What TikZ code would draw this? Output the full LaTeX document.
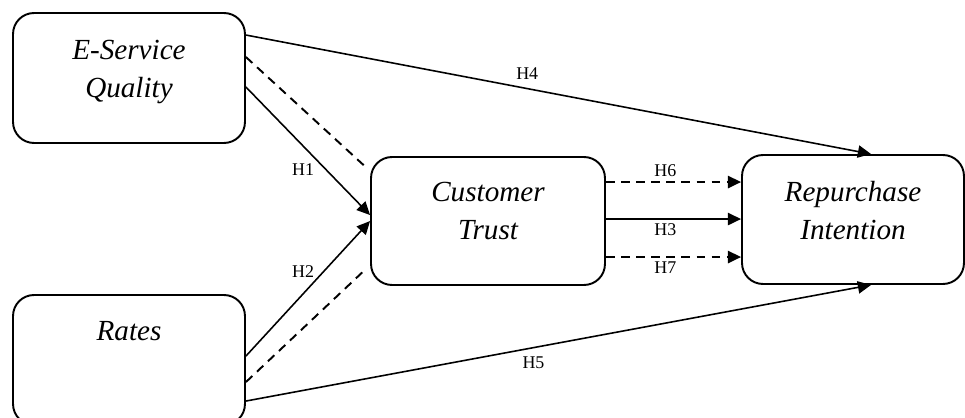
\documentclass[tikz,border=0pt]{standalone}
\usepackage{fontspec}
\setmainfont{Liberation Serif}
\usetikzlibrary{arrows.meta,calc}

\tikzset{
  factor/.style={draw, line width=1.1pt, rounded corners=0.42cm, minimum width=4.64cm, minimum height=2.6cm},
  factortext/.style={font=\fontsize{16.6}{21.5}\selectfont\itshape, align=center, anchor=north, inner sep=0pt},
  path/.style={line width=0.9pt, -{Triangle[length=7.5pt,width=7pt]}},
  dashpath/.style={line width=1.1pt, dash pattern=on 5pt off 3.6pt},
  hyp/.style={font=\fontsize{10.2}{12}\selectfont, inner sep=1pt},
}

\begin{document}
\begin{tikzpicture}[x=0.02cm, y=-0.02cm]
\useasboundingbox (0,0) rectangle (965,418);

% Boxes
\node[factor] (esq) at (129,78) {};                 % E-Service Quality
\node[factor] (rates) at (129,360) {};              % Rates
\node[factor, minimum width=4.68cm, minimum height=2.56cm] (trust) at (488,221) {}; % Customer Trust
\node[factor, minimum width=4.44cm, minimum height=2.58cm] (repurchase) at (853,219.5) {}; % Repurchase Intention

% Box texts
\node[factortext] (esqt) at ($(esq.north)+(0,28)$) {E-Service\\Quality};
\node[factortext] (ratest) at ($(rates.north)+(0,27)$) {Rates};
\node[factortext] (trustt) at ($(trust.north)+(0,26)$) {Customer\\Trust};
\node[factortext] (repurchaset) at ($(repurchase.north)+(0,27)$) {Repurchase\\Intention};

% Start and end points on the borders
\coordinate (e4) at ($(esq.north east)+(0,23)$);
\coordinate (ed) at ($(esq.north east)+(0,45)$);
\coordinate (e1) at ($(esq.north east)+(0,75)$);
\coordinate (r2) at ($(rates.north east)+(0,62)$);
\coordinate (rd) at ($(rates.north east)+(0,88)$);
\coordinate (r5) at ($(rates.north east)+(0,107)$);
\coordinate (t1) at ($(trust.north west)+(0,59)$);
\coordinate (t2) at ($(trust.north west)+(0,65)$);
\coordinate (td1) at ($(trust.north west)+(0,15)$);
\coordinate (td2) at ($(trust.north west)+(0,109)$);
\coordinate (t6) at ($(trust.north east)+(0,26)$);
\coordinate (t3) at ($(trust.north east)+(0,63)$);
\coordinate (t7) at ($(trust.north east)+(0,101)$);
\coordinate (p4) at ($(repurchase.north west)+(130,0)$);
\coordinate (p5) at ($(repurchase.south west)+(130,0)$);

% Direct paths
\draw[path] (e4) -- (p4) node[hyp, pos=0.45, above=4pt] {H4};
\draw[path] (r5) -- (p5) node[hyp, pos=0.46, below=4pt] {H5};

% Paths into Customer Trust
\draw[path] (e1) -- (t1) node[hyp, pos=0.46, below=8.6pt] {H1};
\draw[path] (r2) -- (t2) node[hyp, pos=0.46, above=8pt] {H2};
\draw[dashpath, shorten >=3pt] (ed) -- (td1);
\draw[dashpath, shorten >=3pt] (rd) -- (td2);

% Paths into Repurchase Intention
\draw[path, dashpath] (t6) -- (t6 -| repurchase.west) node[hyp, pos=0.44, above=1.3pt] {H6};
\draw[path] (t3) -- (t3 -| repurchase.west) node[hyp, pos=0.44, below=1.3pt] {H3};
\draw[path, dashpath] (t7) -- (t7 -| repurchase.west) node[hyp, pos=0.44, below=1.3pt] {H7};

\end{tikzpicture}
\end{document}
